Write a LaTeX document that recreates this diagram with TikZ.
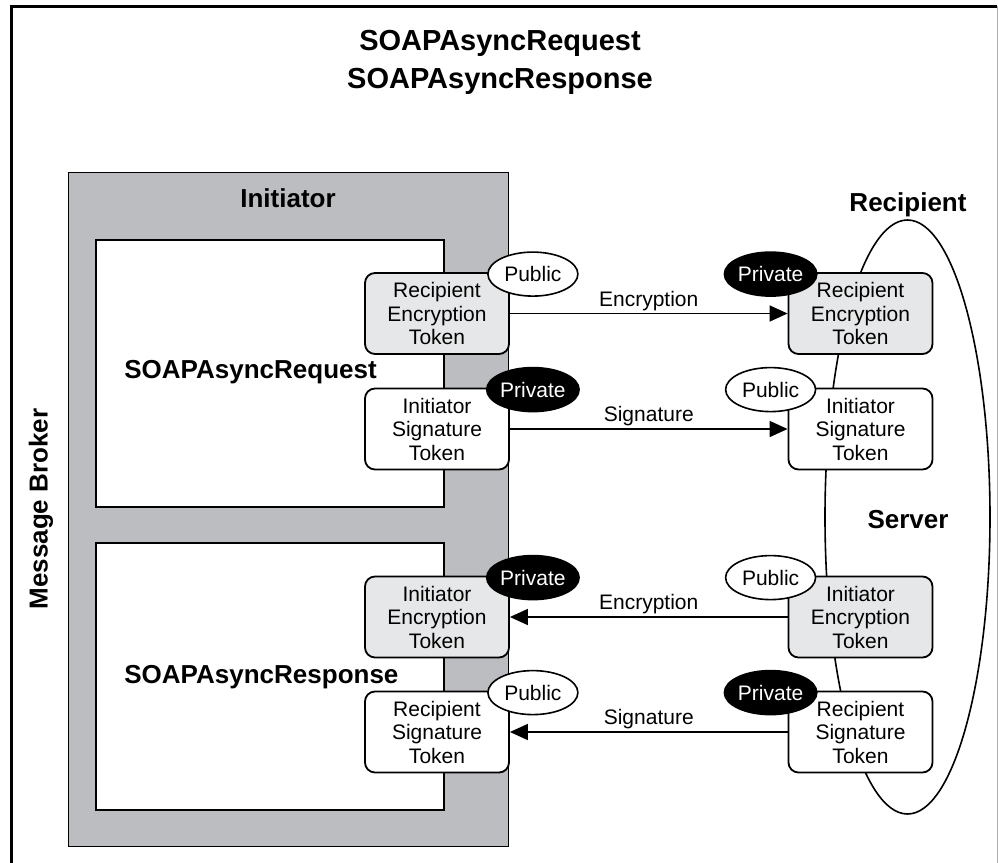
\documentclass[tikz,border=0pt]{standalone}
\usepackage{fontspec}
\setmainfont{Liberation Sans}
\usetikzlibrary{positioning,shapes.geometric,arrows.meta}
\definecolor{brokerfill}{HTML}{BCBDC0}
\definecolor{tokfill}{HTML}{E6E7E8}
\definecolor{edgegray}{HTML}{B0B0B0}

\begin{document}
\begin{tikzpicture}[x=0.5pt,y=-0.5pt,
  title/.style={font=\fontsize{14.5}{17}\selectfont\bfseries,anchor=base,inner sep=0pt},
  lab/.style={font=\fontsize{13}{15}\selectfont\bfseries,inner sep=0pt},
  broker/.style={draw=black,fill=brokerfill,line width=0.6pt,anchor=north west,minimum width=220pt,minimum height=337pt,inner sep=0pt},
  msgbox/.style={draw=black,fill=white,line width=0.9pt,anchor=north west,minimum width=174pt,minimum height=133.5pt,inner sep=0pt},
  token/.style={draw=black,fill=white,rounded corners=5pt,line width=0.9pt,align=center,minimum width=72pt,minimum height=40.5pt,inner sep=0pt,font=\fontsize{10.5}{11.75}\selectfont},
  gtoken/.style={token,fill=tokfill},
  pubkey/.style={draw=black,fill=white,ellipse,line width=0.8pt,minimum width=45pt,minimum height=22pt,inner sep=0pt,font=\fontsize{10.5}{12}\selectfont},
  privkey/.style={pubkey,fill=black,text=white},
  flow/.style={-{Triangle[length=9pt,width=8pt]},line width=0.8pt},
  flowlab/.style={midway,above=1pt,inner sep=0pt,font=\fontsize{10.5}{12}\selectfont}]
\useasboundingbox (0,0) rectangle (998,863);
% outer frame
\draw[line width=1.5pt] (11,863) -- (11,6) -- (997,6);
\draw[edgegray,line width=0.5pt] (997,6) -- (997,863);
\node[title] (t1) at (500,50) {SOAPAsyncRequest};
\node[title] (t2) at (500,88) {SOAPAsyncResponse};
\node[lab,rotate=90] (mb) at (41,509) {Message Broker};
% initiator side
\node[broker] (init) at (68,172) {};
\node[lab,anchor=base] (initlab) at (288,207) {Initiator};
\node[msgbox] (req) at (95,239) {};
\node[msgbox] (res) at (95,542) {};
\node[lab,anchor=base west] (reqlab) at (124,378) {SOAPAsyncRequest};
\node[lab,anchor=base west] (reslab) at (124,683) {SOAPAsyncResponse};
% recipient side
\node[draw=black,ellipse,line width=0.8pt,minimum width=82.5pt,minimum height=297pt,inner sep=0pt] (srv) at (907.5,517) {};
\node[lab,anchor=base] (rcplab) at (908,211) {Recipient};
\node[lab,anchor=base] (srvlab) at (908,528) {Server};
% tokens
\node[gtoken] (iRcpEnc) at (437,313.5) {Recipient\\Encryption\\Token};
\node[token]  (iIniSig) at (437,429) {Initiator\\Signature\\Token};
\node[gtoken] (iIniEnc) at (437,617) {Initiator\\Encryption\\Token};
\node[token]  (iRcpSig) at (437,732) {Recipient\\Signature\\Token};
\node[gtoken] (rRcpEnc) at (860.5,313.5) {Recipient\\Encryption\\Token};
\node[token]  (rIniSig) at (860.5,429) {Initiator\\Signature\\Token};
\node[gtoken] (rIniEnc) at (860.5,617) {Initiator\\Encryption\\Token};
\node[token]  (rRcpSig) at (860.5,732) {Recipient\\Signature\\Token};
% keys
\node[pubkey]  (k1) at ([xshift=11.5pt,yshift=-1pt]iRcpEnc.north east) {Public};
\node[privkey] (k2) at ([xshift=11.5pt,yshift=-1pt]iIniSig.north east) {Private};
\node[privkey] (k3) at ([xshift=11.5pt,yshift=-1pt]iIniEnc.north east) {Private};
\node[pubkey]  (k4) at ([xshift=11.5pt,yshift=-1pt]iRcpSig.north east) {Public};
\node[privkey] (k5) at ([xshift=-8.5pt,yshift=-1pt]rRcpEnc.north west) {Private};
\node[pubkey]  (k6) at ([xshift=-8.5pt,yshift=-1pt]rIniSig.north west) {Public};
\node[pubkey]  (k7) at ([xshift=-8.5pt,yshift=-1pt]rIniEnc.north west) {Public};
\node[privkey] (k8) at ([xshift=-8.5pt,yshift=-1pt]rRcpSig.north west) {Private};
% messages
\draw[flow] (iRcpEnc.east) -- node[flowlab]{Encryption} (rRcpEnc.west);
\draw[flow] (iIniSig.east) -- node[flowlab]{Signature} (rIniSig.west);
\draw[flow] (rIniEnc.west) -- node[flowlab]{Encryption} (iIniEnc.east);
\draw[flow] (rRcpSig.west) -- node[flowlab]{Signature} (iRcpSig.east);
\end{tikzpicture}
\end{document}
